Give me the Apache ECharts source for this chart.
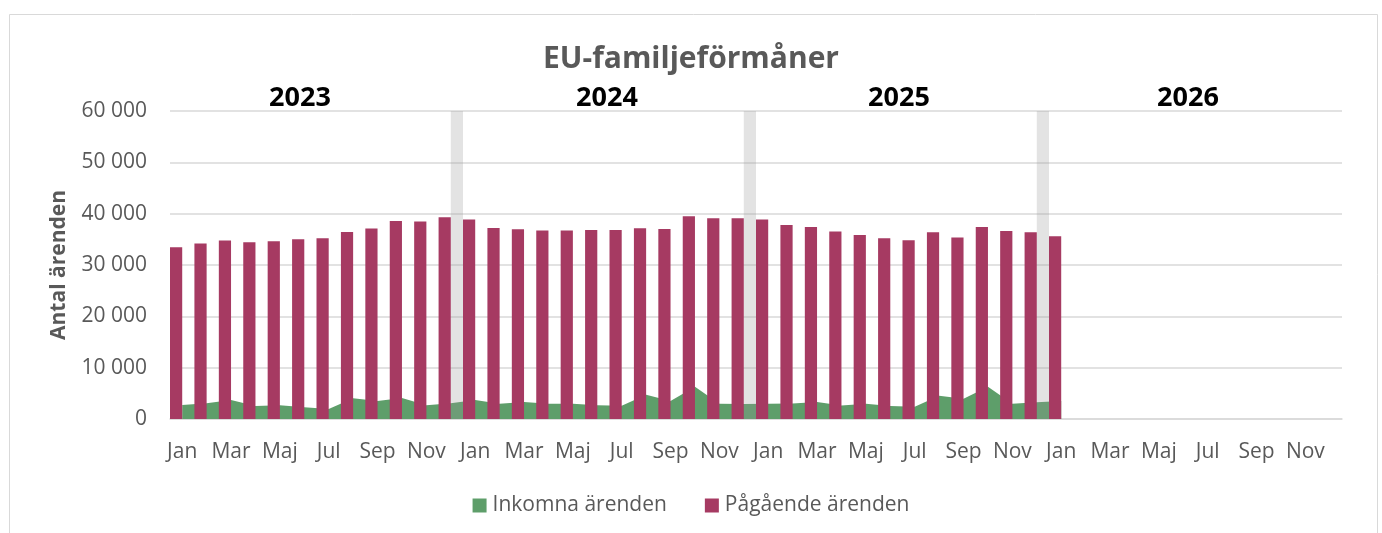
<!DOCTYPE html>
<html>
<head>
<meta charset="utf-8">
<script src="https://cdn.jsdelivr.net/npm/echarts@6/dist/echarts.min.js"></script>
<style>
html,body{margin:0;padding:0;background:#fff;}
#c{width:1382px;height:533px;}
</style>
</head>
<body>
<div id="c"></div>
<script>
const monthNames = ['Jan','Feb','Mar','Apr','Maj','Jun','Jul','Aug','Sep','Okt','Nov','Dec'];
const years = ['2023','2024','2025','2026'];
const categories = [];
years.forEach(y => monthNames.forEach(m => categories.push(m)));

const inkomna = [
  2720, 3050, 3700, 2530, 2660, 2270, 1950, 4020, 3500, 4080, 2660, 3050,
  3700, 2980, 3300, 2980, 2980, 2660, 2590, 4720, 3500, 6280, 2980, 2910,
  2980, 3040, 3300, 2650, 2980, 2520, 2400, 4530, 3950, 6280, 2980, 3240,
  3500
];
const pagaende = [
  33460, 34180, 34760, 34440, 34630, 35020, 35210, 36440, 37100, 38580, 38460, 39300,
  38850, 37220, 36960, 36710, 36710, 36830, 36830, 37160, 37020, 39490, 39100, 39100,
  38850, 37800, 37410, 36510, 35860, 35210, 34820, 36380, 35350, 37410, 36630, 36380,
  35600
];
// year separators at December positions
const separator = [
  null,null,null,null,null,null,null,null,null,null,null,60000,
  null,null,null,null,null,null,null,null,null,null,null,60000,
  null,null,null,null,null,null,null,null,null,null,null,60000,
  null,null,null,null,null,null,null,null,null,null,null,null
];
const yTicks = [0, 10000, 20000, 30000, 40000, 50000, 60000];

const FONT = 'Open Sans';
const chart = echarts.init(document.getElementById('c'), null, {renderer:'canvas'});

function fmt(v){ return String(v).replace(/\B(?=(\d{3})+(?!\d))/g, ' '); }

const yearLabelX = [300, 607, 899, 1188];

const option = {
  animation: false,
  backgroundColor: '#fff',
  textStyle: {fontFamily: FONT},
  title: {
    text: 'EU-familjeförmåner',
    left: 'center',
    top: 39,
    textStyle: {fontFamily: FONT, fontSize: 30, fontWeight: 'bold', color: '#595959'}
  },
  legend: {
    data: ['Inkomna ärenden', 'Pågående ärenden'],
    bottom: 12,
    left: 'center',
    icon: 'rect',
    itemWidth: 14,
    itemHeight: 14,
    itemGap: 38,
    textStyle: {fontFamily: FONT, fontSize: 21, color: '#595959', padding: [0,0,0,1]}
  },
  grid: {left: 170, right: 40, top: 111, bottom: 114, containLabel: false},
  xAxis: {
    type: 'category',
    data: categories,
    boundaryGap: true,
    axisTick: {show: false},
    axisLine: {lineStyle: {color: '#d9d9d9', width: 1.5}},
    axisLabel: {interval: 1, fontFamily: FONT, fontSize: 21, color: '#595959', margin: 23}
  },
  yAxis: {
    type: 'value',
    min: yTicks[0],
    max: yTicks[yTicks.length-1],
    interval: 10000,
    name: 'Antal ärenden',
    nameLocation: 'middle',
    nameGap: 100,
    nameTextStyle: {fontFamily: FONT, fontSize: 21, fontWeight: 'bold', color: '#595959'},
    axisLine: {show: false},
    axisTick: {show: false},
    splitLine: {lineStyle: {color: '#d9d9d9', width: 1.5}},
    axisLabel: {fontFamily: FONT, fontSize: 21, color: '#595959', margin: 23, formatter: fmt}
  },
  series: [
    {
      name: 'Inkomna ärenden',
      type: 'line',
      data: inkomna,
      showSymbol: false,
      symbol: 'none',
      lineStyle: {width: 0},
      itemStyle: {color: '#5e9e6a'},
      areaStyle: {color: '#5e9e6a', opacity: 1},
      z: 1
    },
    {
      name: 'Pågående ärenden',
      type: 'bar',
      data: pagaende,
      barGap: '0%',
      barCategoryGap: '0%',
      itemStyle: {color: '#a63a62'},
      z: 3
    },
    {
      name: 'sep',
      type: 'bar',
      data: separator,
      barGap: '0%',
      barCategoryGap: '0%',
      itemStyle: {color: 'rgba(150,150,150,0.27)'},
      z: 2
    }
  ],
  graphic: [
    {type: 'rect', left: 7, top: 12, shape: {width: 1368, height: 540}, style: {fill: 'none', stroke: '#d9d9d9', lineWidth: 1}, silent: true}
  ].concat(years.map((y, i) => ({
    type: 'text',
    x: yearLabelX[i],
    y: 98,
    style: {text: y, font: 'bold 27px "Open Sans"', fill: '#000', align: 'center', verticalAlign: 'middle'}
  })))
};
chart.setOption(option);
</script>
</body>
</html>
